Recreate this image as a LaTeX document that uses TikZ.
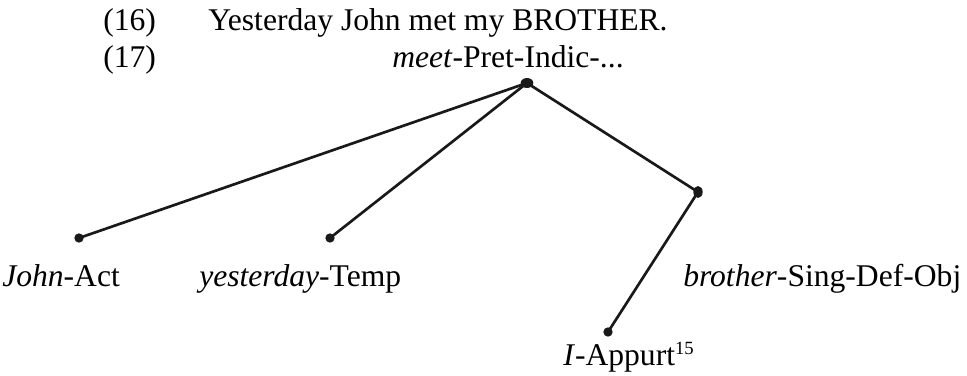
\documentclass[tikz,border=0pt]{standalone}
\usepackage{fontspec}
\setmainfont{Liberation Serif}
\usetikzlibrary{shapes.geometric}

\tikzset{
  dep/.style={line width=2pt, black!90},
  dot/.style={circle, fill=black!90, inner sep=0pt, minimum size=7pt},
  topdot/.style={ellipse, fill=black!90, inner sep=0pt, minimum width=9.5pt, minimum height=7.5pt},
  lab/.style={anchor=base west, inner sep=0pt, font=\fontsize{23.7}{28}\selectfont}
}
\newcommand{\supnum}[1]{\raisebox{0.32em}{\fontsize{14}{14}\selectfont #1}}

\begin{document}
\begin{tikzpicture}[x=0.75pt,y=-0.75pt]
        \useasboundingbox (0,0) rectangle (967,375);

        % example lines
        \node[lab] (n16) at (103,30) {(16)};
        \node[lab] (sent) at (208,30) {Yesterday John met my BROTHER.};
        \node[lab] (n17) at (103,67) {(17)};
        \node[lab] (meet) at (392,67) {\textit{meet}-Pret-Indic-...};

        % tree
        \node[topdot] (root) at (527,83) {};
        \node[dot] (john) at (79,238) {};
        \node[dot] (yest) at (330,238) {};
        \node[dot, ellipse, minimum width=7pt, minimum height=9pt] (bro) at (698,192) {};
        \node[dot] (me) at (608,332) {};

        \draw[dep] (root.center) -- (john.center);
        \draw[dep] (root.center) -- (yest.center);
        \draw[dep] (root.center) -- (bro.center);
        \draw[dep] (bro.center) -- (me.center);

        \node[lab] (johnlab) at (2,286) {\textit{John}-Act};
        \node[lab] (yestlab) at (199,286) {\textit{yesterday}-Temp};
        \node[lab] (brolab) at (683,286) {\textit{brother}-Sing-Def-Obj};
        \node[lab] (melab) at (563,365) {\textit{I}-Appurt\supnum{15}};
\end{tikzpicture}
\end{document}
